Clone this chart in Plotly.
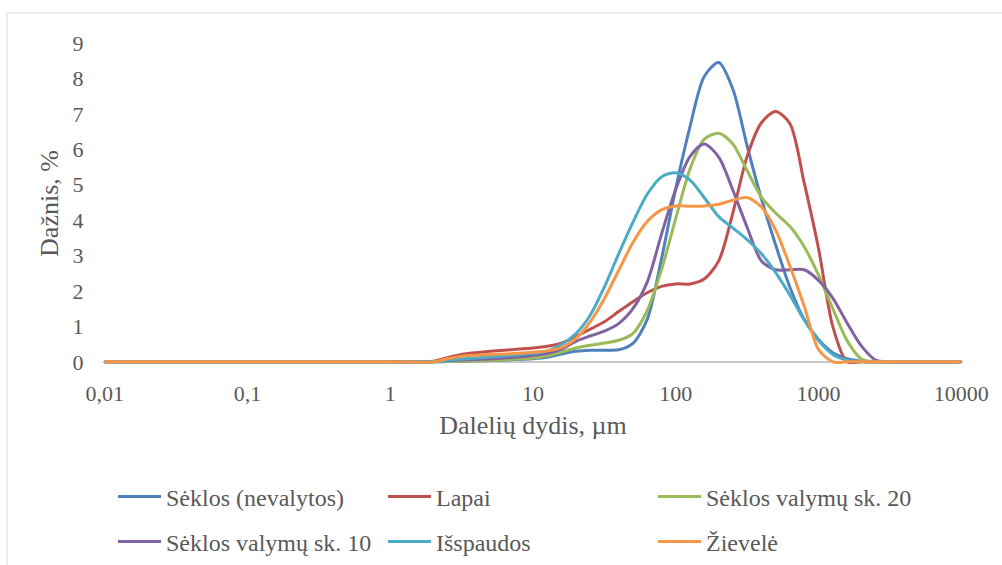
import plotly.graph_objects as go

# particle size, µm
sizes_um = [0.01, 1, 2.0, 2.51, 3.16, 3.98, 5.01, 6.31, 7.94, 10, 12.6, 15.8, 20.0, 25.1,
            31.6, 39.8, 50.1, 63.1, 79.4, 100, 126, 158, 200, 251, 316, 398, 501, 631,
            794, 1000, 1259, 1585, 1995, 2512, 3162, 10000]

seklos_nevalytos = [0, 0, 0, 0.01, 0.02, 0.03, 0.04, 0.05, 0.07, 0.09, 0.13, 0.22, 0.30, 0.33,
                    0.33, 0.34, 0.52, 1.2, 2.9, 4.9, 6.65, 8.05, 8.45, 7.7, 6.1, 4.6, 3.3, 2.1,
                    1.2, 0.63, 0.26, 0.09, 0.02, 0, 0, 0]
lapai = [0, 0, 0.02, 0.12, 0.21, 0.26, 0.30, 0.33, 0.36, 0.39, 0.44, 0.53, 0.72, 0.92,
         1.13, 1.42, 1.7, 1.95, 2.13, 2.2, 2.2, 2.34, 2.85, 4.2, 5.8, 6.75, 7.07, 6.72,
         5.05, 3.2, 1.0, 0, 0, 0, 0, 0]
seklos_20 = [0, 0, 0, 0.02, 0.02, 0.03, 0.04, 0.06, 0.08, 0.11, 0.17, 0.28, 0.39, 0.47,
             0.53, 0.61, 0.8, 1.45, 2.6, 4.05, 5.45, 6.28, 6.45, 6.15, 5.4, 4.65, 4.2, 3.82,
             3.25, 2.45, 1.5, 0.6, 0.08, 0, 0, 0]
seklos_10 = [0, 0, 0, 0.04, 0.05, 0.07, 0.08, 0.11, 0.14, 0.18, 0.24, 0.36, 0.58, 0.73,
             0.87, 1.08, 1.5, 2.25, 3.6, 4.87, 5.8, 6.15, 5.78, 4.85, 3.8, 2.85, 2.6, 2.6,
             2.6, 2.3, 1.8, 1.1, 0.45, 0.05, 0, 0]
isspaudos = [0, 0, 0, 0.05, 0.08, 0.11, 0.14, 0.17, 0.20, 0.24, 0.31, 0.49, 0.8, 1.31,
             2.11, 3.05, 3.94, 4.73, 5.22, 5.34, 5.13, 4.64, 4.1, 3.78, 3.45, 3.05, 2.52, 1.88,
             1.18, 0.6, 0.21, 0.05, 0, 0, 0, 0]
zievele = [0, 0, 0, 0.09, 0.16, 0.19, 0.21, 0.22, 0.24, 0.27, 0.31, 0.40, 0.66, 1.12,
           1.78, 2.58, 3.37, 3.96, 4.29, 4.4, 4.39, 4.4, 4.45, 4.56, 4.64, 4.37, 3.72, 2.7,
           1.57, 0.35, 0, 0, 0, 0, 0, 0]

series_names = ["Sėklos (nevalytos)", "Lapai", "Sėklos valymų sk. 20",
                "Sėklos valymų sk. 10", "Išspaudos", "Žievelė"]
series_values = [seklos_nevalytos, lapai, seklos_20, seklos_10, isspaudos, zievele]
series_colors = ["#4F81BD", "#C0504D", "#9BBB59", "#8064A2", "#4BACC6", "#F79646"]
series_legends = ["legend", "legend", "legend", "legend2", "legend2", "legend2"]

tick_vals = [0.01, 0.1, 1, 10, 100, 1000, 10000]
tick_text = ["0,01", "0,1", "1", "10", "100", "1000", "10000"]

FONT = "Times New Roman"
GREY = "#595959"

fig = go.Figure()
for name, vals, col, lg in zip(series_names, series_values, series_colors, series_legends):
    fig.add_trace(go.Scatter(
        x=sizes_um, y=vals, name=name, mode="lines",
        line=dict(color=col, width=3, shape="spline", smoothing=0.8),
        legend=lg,
    ))

W, H = 1002, 565
ml, mr, mt, mb = 103, 39, 43, 201
pw, ph = W - ml - mr, H - mt - mb


def px_to_paper_x(px):
    return (px - ml) / pw


def py_to_paper_y(py):
    return (H - mb - py) / ph


legend_common = dict(
    orientation="h", xanchor="left", yanchor="middle",
    font=dict(family=FONT, size=24, color=GREY),
    itemwidth=43,
    entrywidth=212, entrywidthmode="pixels",
    bgcolor="rgba(0,0,0,0)", borderwidth=0,
)

fig.update_layout(
    width=W, height=H,
    margin=dict(l=ml, r=mr, t=mt, b=mb, autoexpand=False),
    paper_bgcolor="white", plot_bgcolor="white",
    xaxis=dict(
        type="log", range=[-2.012, 4.012], automargin=False,
        tickvals=tick_vals, ticktext=tick_text,
        showgrid=False, zeroline=False, showline=False,
        ticks="outside", ticklen=10, tickcolor="rgba(0,0,0,0)",
        tickfont=dict(family=FONT, size=22, color=GREY),
        title=dict(text="Dalelių dydis, µm", standoff=10,
                   font=dict(family=FONT, size=26, color=GREY)),
    ),
    yaxis=dict(
        range=[-0.06, 9], tickvals=list(range(0, 10)), automargin=False,
        showgrid=False, showline=False,
        zeroline=True, zerolinecolor="#C8C8C8", zerolinewidth=1.5,
        ticks="outside", ticklen=14, tickcolor="rgba(0,0,0,0)",
        tickfont=dict(family=FONT, size=22, color=GREY),
        title=dict(text="Dažnis, %", standoff=6,
                   font=dict(family=FONT, size=26, color=GREY)),
    ),
    legend=dict(x=px_to_paper_x(113), y=py_to_paper_y(497), **legend_common),
    legend2=dict(x=px_to_paper_x(113), y=py_to_paper_y(542), **legend_common),
    showlegend=True,
    shapes=[dict(
        type="rect", xref="paper", yref="paper",
        x0=px_to_paper_x(7), x1=px_to_paper_x(1010),
        y0=py_to_paper_y(575), y1=py_to_paper_y(13),
        line=dict(color="#D9D9D9", width=1), fillcolor="rgba(0,0,0,0)", layer="below",
    )],
)

fig.write_html("out.html", config={"displayModeBar": False},
               post_script="document.body.style.margin='0';")
